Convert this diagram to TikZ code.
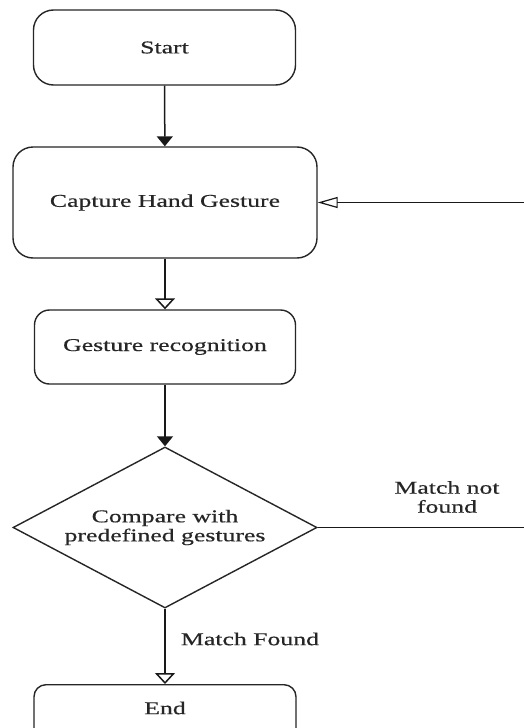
\documentclass[tikz,border=0pt]{standalone}
\usepackage{fontspec}
\setmainfont{Liberation Serif}[FakeStretch=1.43,FakeBold=0.5]
\usetikzlibrary{shapes.geometric,arrows.meta}
\begin{document}
\begin{tikzpicture}[x=1pt,y=-1pt,
  txt/.style={font=\fontsize{18}{19}\selectfont, text=black!85},
  box/.style={draw=black!85, line width=1.4pt, rounded corners=#1, inner sep=0pt, txt},
  box/.default=18pt,
  conn/.style={draw=black!90, line width=1.5pt},
  filledv/.style={conn, -{Triangle[length=10pt,width=16pt]}},
  openv/.style={conn, -{Triangle[open,length=11pt,width=20pt]}},
  openh/.style={conn, line width=1.2pt, -{Triangle[open,length=20pt,width=11pt]}}
]
\useasboundingbox (0,0) rectangle (524,728);
\fill[white] (0,0) rectangle (524,728);
\clip (0,0) rectangle (524,728);

\node[box=20pt, minimum width=262pt, minimum height=75pt] (start) at (164.5,47.5) {Start};
\node[box=20pt, minimum width=304pt, minimum height=111pt] (cap) at (165,202.5) {Capture Hand Gesture};
\node[box=15pt, minimum width=261pt, minimum height=74pt] (rec) at (165,347) {Gesture recognition};
\node[draw=black!85, line width=1.4pt, diamond, minimum width=304pt, minimum height=161pt, inner sep=0pt] (cmp) at (165,527.5) {};
\node[txt, align=center] (cmptxt) at (cmp.center) {Compare with\\predefined gestures};
\node[box=12pt, minimum width=262pt, minimum height=100pt, anchor=north] (end) at (165,684) {};
\node[txt] (endtxt) at (165,708) {End};

\coordinate (r1) at (524,202.5);
\coordinate (r2) at (524,527.5);

\draw[filledv] (start) -- (cap);
\draw[openv] (cap) -- (rec);
\draw[filledv] (rec) -- (cmp);
\draw[openv] (cmp) -- (end);
\draw[conn, line width=1.2pt] (cmp.east) -- (r2);
\draw[openh] (r1) -- (cap.east);

\node[txt] (found) at (250,639) {Match Found};
\node[txt, align=center] (notfound) at (447,497) {Match not\\found};
\end{tikzpicture}
\end{document}
